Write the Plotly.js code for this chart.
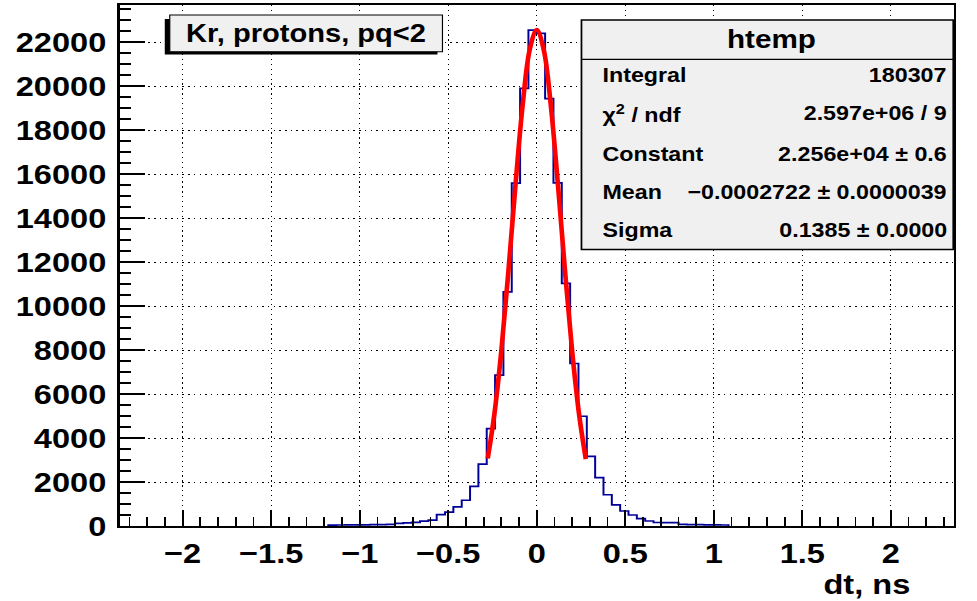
<!DOCTYPE html>
<html>
<head>
<meta charset="utf-8">
<script src="https://cdn.plot.ly/plotly-3.0.1.min.js"></script>
<style>
  html, body { margin:0; padding:0; background:#ffffff; overflow:hidden; width:977px; height:601px; }
  #plot { width:840px; height:601px; transform: scaleX(1.163095); transform-origin: 0 0; }
</style>
</head>
<body>
<div id="plot"></div>
<script>
// ---------------- data ----------------
const histXMin = -2.355;
const histXMax = 2.355;
const histNBins = 100;
const firstFilledBin = 25;   // index of the first non-empty bin (0-based)
const binCounts = [
  40, 45, 50, 50, 55, 60, 65, 75,
  120, 140, 165, 225, 265,
  520, 630, 870, 1170, 1800, 2810,
  4430, 6860, 10650, 15590, 19900, 22550,
  22400, 19430, 15600, 11030, 7390, 4990,
  3170, 2200, 1420, 960, 683, 500,
  335, 228, 160, 155, 150,
  70, 65, 60, 55, 50, 45
];
const fitX = [-0.277, -0.24, -0.20, -0.16, -0.12, -0.08, -0.04, 0, 0.04, 0.08, 0.12, 0.16, 0.20, 0.24, 0.277];
const fitY = [3066, 5045, 7975, 11602, 15526, 19115, 21650, 22560, 21626, 19072, 15474, 11549, 7930, 5011, 3042];
const titleText = "Kr, protons, pq<2";
const statsTitle = "htemp";
const statsNames = ["Integral", "χ<sup>2</sup> / ndf", "Constant", "Mean", "Sigma"];
const statsValues = ["180307", "2.597e+06 / 9", "2.256e+04 ± 0.6", "−0.0002722 ± 0.0000039", "0.1385 ± 0.0000"];
const xTitle = "dt, ns";

// ---------------- geometry helpers ----------------
const S = 977/840;
const W = 840, H = 601, L = 103.2, R = 19.8, T = 5, B = 75.3;
const PW = W - L - R, PH = H - T - B;
function fx(realX) { return (realX / S - L) / PW; }
function fy(realY) { return (H - B - realY) / PH; }

// build step outline of the histogram
const bw = (histXMax - histXMin) / histNBins;
const hx = [], hy = [];
const e0 = histXMin + firstFilledBin * bw;
hx.push(e0); hy.push(0);
for (let i = 0; i < binCounts.length; i++) {
  hx.push(histXMin + (firstFilledBin + i) * bw);
  hy.push(binCounts[i]);
}
const eN = histXMin + (firstFilledBin + binCounts.length) * bw;
hx.push(eN); hy.push(binCounts[binCounts.length - 1]);
hx.push(eN); hy.push(0);

const FONT = "Liberation Sans, Arial, Helvetica, sans-serif";

const traces = [
  { type: 'scatter', mode: 'lines', x: hx, y: hy, line: { shape: 'hv', color: '#000099', width: 1.7 }, hoverinfo: 'skip' },
  { type: 'scatter', mode: 'lines', x: fitX, y: fitY, line: { shape: 'spline', color: '#ff0000', width: 4 }, hoverinfo: 'skip' }
];

const gridDash = "1.3px,3.6px";

const shapes = [
  // title box shadow
  { type: 'rect', xref: 'paper', yref: 'paper', x0: fx(165), x1: fx(437.7), y0: fy(54.5), y1: fy(19), fillcolor: '#000000', line: { width: 0 }, layer: 'above' },
  // title box
  { type: 'rect', xref: 'paper', yref: 'paper', x0: fx(170), x1: fx(442.7), y0: fy(51.7), y1: fy(15), fillcolor: '#f0f0f0', line: { color: '#000000', width: 1 }, layer: 'above' },
  // stats box
  { type: 'rect', xref: 'paper', yref: 'paper', x0: fx(581.7), x1: fx(953.5), y0: fy(249.3), y1: fy(20), fillcolor: '#f0f0f0', line: { color: '#000000', width: 1.5 }, layer: 'above' },
  // stats header separator
  { type: 'line', xref: 'paper', yref: 'paper', x0: fx(581.7), x1: fx(953.5), y0: fy(59.3), y1: fy(59.3), line: { color: '#000000', width: 1.2 }, layer: 'above' }
];

const rowY = [75, 113, 154, 192, 230];
const annotations = [
  { xref: 'paper', yref: 'paper', x: fx(306), y: fy(33), text: titleText, showarrow: false, xanchor: 'center', yanchor: 'middle',
    font: { family: FONT, size: 25, color: '#000', weight: 'bold' } },
  { xref: 'paper', yref: 'paper', x: fx(772), y: fy(39), text: statsTitle, showarrow: false, xanchor: 'center', yanchor: 'middle',
    font: { family: FONT, size: 25.5, color: '#000', weight: 'bold' } },
  { xref: 'paper', yref: 'paper', x: fx(913), y: fy(584), text: xTitle, showarrow: false, xanchor: 'right', yanchor: 'middle',
    font: { family: FONT, size: 28, color: '#000', weight: 'bold' } }
];
for (let i = 0; i < statsNames.length; i++) {
  annotations.push({ xref: 'paper', yref: 'paper', x: fx(600), y: fy(rowY[i]), text: statsNames[i], showarrow: false,
    xanchor: 'left', yanchor: 'middle', font: { family: FONT, size: 20, color: '#000', weight: 'bold' } });
  annotations.push({ xref: 'paper', yref: 'paper', x: fx(949), y: fy(rowY[i]), text: statsValues[i], showarrow: false,
    xanchor: 'right', yanchor: 'middle', font: { family: FONT, size: 20, color: '#000', weight: 'bold' } });
}

const layout = {
  width: W, height: H,
  margin: { l: L, r: R, t: T, b: B, pad: 0 },
  paper_bgcolor: '#ffffff', plot_bgcolor: '#ffffff',
  showlegend: false,
  xaxis: {
    range: [histXMin, histXMax], tick0: 0, dtick: 0.5,
    showline: true, linecolor: '#000', linewidth: 2, mirror: true, zeroline: false,
    ticks: 'inside', ticklen: 16, tickwidth: 1.5, tickcolor: '#000',
    showgrid: true, gridcolor: '#000', gridwidth: 1, griddash: gridDash,
    minor: { dtick: 0.1, tick0: 0, ticks: 'inside', ticklen: 9, tickwidth: 1.5, tickcolor: '#000', showgrid: false },
    tickfont: { family: FONT, size: 28, color: '#000', weight: 'bold' },
    ticklabelstandoff: 1
  },
  yaxis: {
    range: [0, 23690], tick0: 0, dtick: 2000, tickformat: 'd',
    showline: true, linecolor: '#000', linewidth: 2, mirror: true, zeroline: false,
    ticks: 'inside', ticklen: 21.5, tickwidth: 1.5, tickcolor: '#000',
    showgrid: true, gridcolor: '#000', gridwidth: 1, griddash: gridDash,
    minor: { dtick: 500, tick0: 0, ticks: 'inside', ticklen: 10, tickwidth: 1.5, tickcolor: '#000', showgrid: false },
    tickfont: { family: FONT, size: 28, color: '#000', weight: 'bold' },
    ticklabelstandoff: 4
  },
  shapes: shapes,
  annotations: annotations
};

Plotly.newPlot('plot', traces, layout, { displayModeBar: false, staticPlot: true });
</script>
</body>
</html>
